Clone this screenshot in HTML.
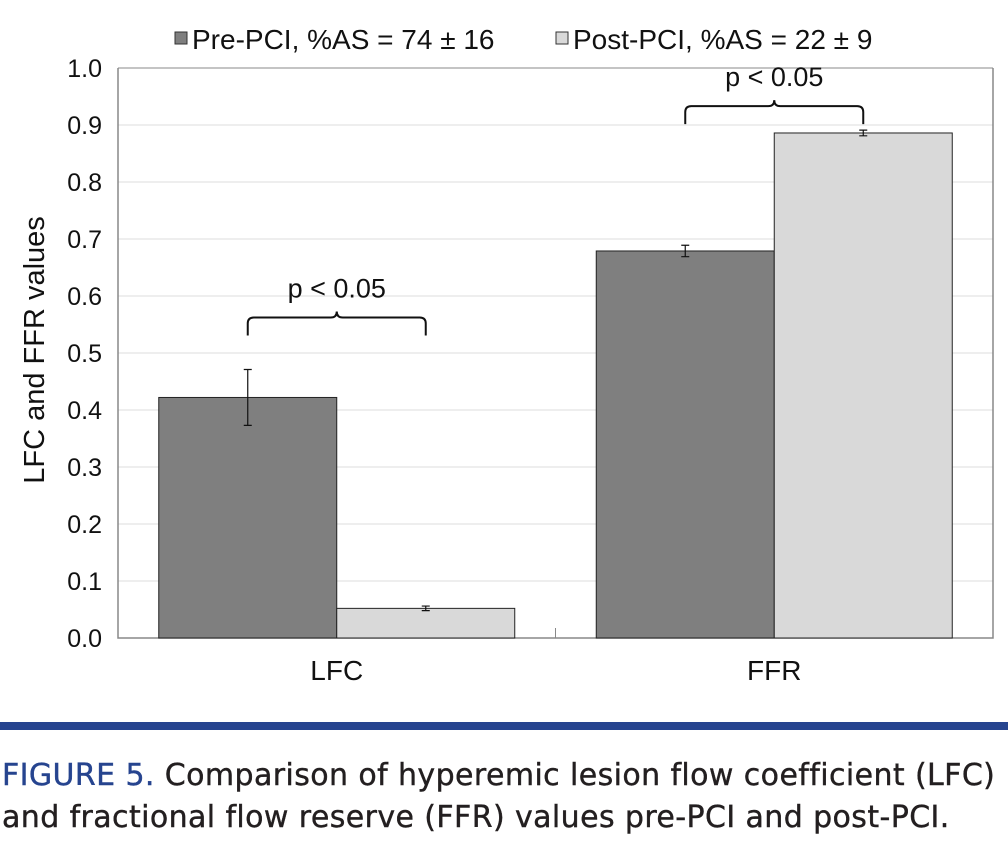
<!DOCTYPE html>
<html><head><meta charset="utf-8"><style>
body{margin:0;background:#fff;width:1008px;height:842px;overflow:hidden;font-family:"Liberation Sans",sans-serif}
svg{position:absolute;left:0;top:0}
.cap{position:absolute;left:2px;font-size:30px;color:#231f20;font-family:"DejaVu Sans","Liberation Sans",sans-serif;letter-spacing:0.4px;white-space:nowrap;-webkit-text-stroke:0.4px #231f20}
</style></head><body>
<svg id="chart" width="1008" height="842"></svg>
<div style="position:absolute;left:0;top:722px;width:1008px;height:8px;background:#26448f"></div>
<div class="cap" style="top:758px"><span style="color:#26448f;-webkit-text-stroke:0.4px #26448f">FIGURE 5.</span> Comparison of hyperemic lesion flow coefficient (LFC)</div>
<div class="cap" style="top:800px">and fractional flow reserve (FFR) values pre-PCI and post-PCI.</div>
<script>
const categories=["LFC","FFR"];
const preValues=[0.422,0.679];
const preErrors=[0.049,0.01];
const postValues=[0.052,0.886];
const postErrors=[0.004,0.005];
const yTicks=[0,0.1,0.2,0.3,0.4,0.5,0.6,0.7,0.8,0.9,1.0];
const seriesNames=["Pre-PCI, %AS = 74 ± 16","Post-PCI, %AS = 22 ± 9"];
const pLabels=["p < 0.05","p < 0.05"];

const svg=document.getElementById('chart');const NS="http://www.w3.org/2000/svg";
const L=118,R=993,T=68,B=638;
const y=v=>B-(v/1.0)*(B-T);
const band=(R-L)/categories.length;
const cx=i=>L+(i+0.5)*band;
const bw=178;
function mk(t,a,p){const e=document.createElementNS(NS,t);for(const k in a)e.setAttribute(k,a[k]);(p||svg).appendChild(e);return e;}
yTicks.forEach((v,i)=>{
 const g=mk('line',{x1:L,x2:R,y1:y(v),y2:y(v),stroke:i==yTicks.length-1?'#888':'#ddd','stroke-width':1});
 
 
 const t=mk('text',{x:L-16,y:y(v)+9,'text-anchor':'end','font-size':25,fill:'#111'});t.textContent=v.toFixed(1);
 
 
});
const ax=mk('path',{d:`M${L},${T}V${B}H${R}V${T}`,fill:'none',stroke:'#888','stroke-width':1.5});


const tk=mk('line',{x1:L+band,x2:L+band,y1:B,y2:B-10,stroke:'#888'});


function err(x,v,e){mk('path',{d:`M${x},${y(v+e)}V${y(v-e)}M${x-4},${y(v+e)}h8M${x-4},${y(v-e)}h8`,stroke:'#111','stroke-width':1.2,fill:'none'});}
const brOff=[52,24];
categories.forEach((c,i)=>{
 const c0=cx(i);
 const b1=mk('rect',{x:c0-bw,y:y(preValues[i]),width:bw,height:B-y(preValues[i]),fill:'#7f7f7f',stroke:'#222','stroke-width':1});
 
 
 const b2=mk('rect',{x:c0,y:y(postValues[i]),width:bw,height:B-y(postValues[i]),fill:'#d9d9d9',stroke:'#222','stroke-width':1});
 
 
 err(c0-bw/2,preValues[i],preErrors[i]);err(c0+bw/2,postValues[i],postErrors[i]);
 const t=mk('text',{x:c0,y:680,'text-anchor':'middle','font-size':28,fill:'#111'});t.textContent=c;
 
 
 const top=Math.max(preValues[i]+preErrors[i],postValues[i]+postErrors[i]);
 const by=y(top)-brOff[i];
 const x1=c0-bw/2,x2=c0+bw/2;
 const br=mk('path',{d:`M${x1},${by+18}V${by+6}Q${x1},${by} ${x1+6},${by}H${c0-6}Q${c0},${by} ${c0},${by-6}Q${c0},${by} ${c0+6},${by}H${x2-6}Q${x2},${by} ${x2},${by+6}V${by+18}`,fill:'none',stroke:'#111','stroke-width':2});
 
 
 const p=mk('text',{x:c0,y:by-20,'text-anchor':'middle','font-size':27,fill:'#111'});p.textContent=pLabels[i];
 
 
});
const yt=mk('text',{x:0,y:0,transform:'translate(44,350) rotate(-90)','text-anchor':'middle','font-size':29,fill:'#111'});yt.textContent='LFC and FFR values';


const lx=[175,556],cols=['#7f7f7f','#d9d9d9'];
seriesNames.forEach((n,i)=>{
 const r=mk('rect',{x:lx[i],y:32,width:12,height:12,fill:cols[i],stroke:'#333','stroke-width':1});
 
 
 const t=mk('text',{x:lx[i]+17,y:49,'font-size':28,fill:'#111'});t.textContent=n;
 
 
});
</script>
</body></html>
